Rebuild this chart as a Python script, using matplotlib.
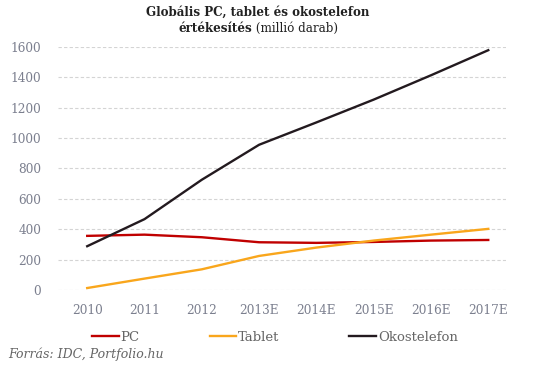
import matplotlib
matplotlib.use('Agg')
import matplotlib.pyplot as plt
import numpy as np

# adatok (millió darab)
evek = ['2010', '2011', '2012', '2013E', '2014E', '2015E', '2016E', '2017E']
pc = [356, 364, 347, 314, 310, 316, 325, 329]
tablet = [13, 75, 136, 224, 279, 325, 364, 402]
okostelefon = [288, 466, 725, 955, 1102, 1252, 1412, 1577]

plt.rcParams['font.family'] = 'DejaVu Serif'
szurke = '#7b7f8e'

fig = plt.figure(figsize=(5.34, 3.70), dpi=100)
ax = fig.add_axes([0.1086, 0.2162, 0.839, 0.6576])

x = np.arange(len(evek))
l1, = ax.plot(x, pc, color='#c00000', lw=1.7, clip_on=False)
l2, = ax.plot(x, tablet, color='#f9a61c', lw=1.7, clip_on=False)
l3, = ax.plot(x, okostelefon, color='#231a1f', lw=1.7, clip_on=False)

ax.set_xlim(-0.51, 7.31)
ax.set_ylim(0, 1600)
ax.set_yticks(range(0, 1601, 200))
ax.set_xticks(x)
ax.set_xticklabels(evek)

ax.grid(axis='y', color='#d4d4d4', ls=(0, (3, 2)), lw=0.8)
ax.set_axisbelow(True)
for s in ax.spines.values():
    s.set_visible(False)
ax.tick_params(length=0, labelsize=8.7, labelcolor=szurke)
ax.tick_params(axis='y', pad=12)
ax.tick_params(axis='x', pad=10)

# cím
fig.text(0.483, 0.967, 'Globális PC, tablet és okostelefon', ha='center', va='center',
         fontsize=8.6, fontweight='bold', color='#222222')
t1 = fig.text(0, 0.922, 'értékesítés', ha='left', va='center',
              fontsize=8.6, fontweight='bold', color='#222222')
t2 = fig.text(0, 0.922, ' (millió darab)', ha='left', va='center', fontsize=8.6, color='#222222')
r = fig.canvas.get_renderer()
w1 = t1.get_window_extent(r).width / fig.bbox.width
w2 = t2.get_window_extent(r).width / fig.bbox.width
x0 = 0.483 - (w1 + w2) / 2
t1.set_x(x0)
t2.set_x(x0 + w1)

leg = fig.legend([l1, l2, l3], ['PC', 'Tablet', 'Okostelefon'], ncol=3,
                 loc='center', bbox_to_anchor=(0.515, 0.088), frameon=False,
                 handlelength=2.0, handletextpad=0.15, columnspacing=5.3,
                 prop={'size': 9.5})
for txt in leg.get_texts():
    txt.set_color('#666666')

fig.text(0.015, 0.043, 'Forrás: IDC, Portfolio.hu', ha='left', va='center',
         fontsize=9, style='italic', color='#666666')

fig.savefig('out.png', dpi=100)
